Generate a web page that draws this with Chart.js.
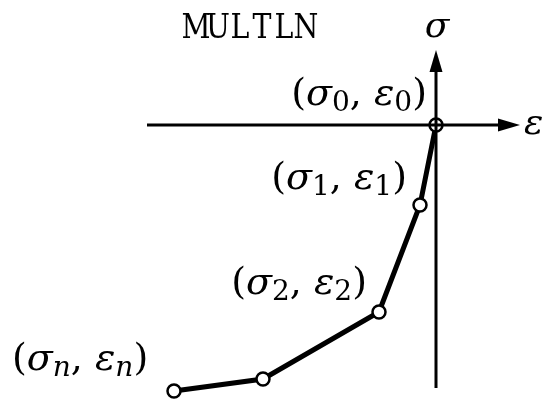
<!DOCTYPE html>
<html>
<head>
<meta charset="utf-8">
<script src="https://cdn.jsdelivr.net/npm/chart.js@4.4.0/dist/chart.umd.min.js"></script>
<style>
  html, body { margin: 0; padding: 0; background: #fff; overflow: hidden; }
  canvas { display: block; }
</style>
</head>
<body>
<canvas id="multlnChart" width="548" height="399"></canvas>
<script>
// Multilinear stress-strain curve points (compression side)
const strain = [0, -0.16, -0.57, -1.73, -2.62];
const stress = [0, -0.80, -1.87, -2.54, -2.66];
const subscripts = ['0', '1', '2', null, 'n'];

const curve = strain.map((e, i) => ({ x: e, y: stress[i] }));

const MATH = '"DejaVu Serif"';

// typewriter-style title: serif caps squeezed into fixed-width cells
function drawTypewriter(ctx, text, left, baseline, cell) {
    ctx.font = '33px ' + MATH;
    ctx.textAlign = 'center';
    for (let i = 0; i < text.length; i++) {
        ctx.save();
        ctx.translate(left + cell * (i + 0.5), baseline);
        ctx.scale(0.86, 1);
        ctx.fillText(text[i], 0, 0);
        ctx.restore();
    }
}

// axes, arrows, title and point labels
const sketchPlugin = {
    id: 'sketch',
    afterDatasetsDraw(chart) {
        const ctx = chart.ctx;
        const xs = chart.scales.x, ys = chart.scales.y;
        const x0 = xs.getPixelForValue(0), y0 = ys.getPixelForValue(0);

        ctx.save();
        ctx.strokeStyle = '#000';
        ctx.fillStyle = '#000';
        ctx.lineWidth = 3;

        // horizontal axis (strain)
        const xl = xs.getPixelForValue(-2.89), xr = xs.getPixelForValue(0.84);
        ctx.beginPath();
        ctx.moveTo(xl, y0);
        ctx.lineTo(xr - 14, y0);
        ctx.stroke();
        ctx.beginPath();
        ctx.moveTo(xr, y0);
        ctx.lineTo(xr - 22, y0 - 6.5);
        ctx.lineTo(xr - 22, y0 + 6.5);
        ctx.closePath();
        ctx.fill();

        // vertical axis (stress)
        const yt = ys.getPixelForValue(0.75), yb = ys.getPixelForValue(-2.63);
        ctx.beginPath();
        ctx.moveTo(x0, yb);
        ctx.lineTo(x0, yt + 14);
        ctx.stroke();
        ctx.beginPath();
        ctx.moveTo(x0, yt);
        ctx.lineTo(x0 - 6.5, yt + 22);
        ctx.lineTo(x0 + 6.5, yt + 22);
        ctx.closePath();
        ctx.fill();

        ctx.textBaseline = 'alphabetic';
        ctx.font = 'italic 36px ' + MATH;
        ctx.textAlign = 'center';
        ctx.fillText('σ', x0 + 1, 37);
        ctx.textAlign = 'left';
        ctx.fillText('ε', xr + 4, y0 + 9);

        drawTypewriter(ctx, 'MULTLN', 185, 38, 22);

        // point labels (σi, εi): [right edge or left edge, baseline]
        const anchors = [[427, 105], [407, 189], [367, 294], null, [12, 370]];
        subscripts.forEach((s, i) => {
            if (s === null) return;
            const [ax, ay] = anchors[i];
            drawPair(ctx, s, ax, ay, i === 4);
        });
        ctx.restore();
    }
};

function drawPair(ctx, s, x, y, fromLeft) {
    const sub = (s === 'n' ? 'italic ' : '') + '28px ' + MATH;
    const parts = [
        ['(', '38px ' + MATH, 0],
        ['σ', 'italic 38px ' + MATH, 0],
        [s, sub, 6],
        [', ', '38px ' + MATH, 0],
        ['ε', 'italic 38px ' + MATH, 0],
        [s, sub, 6],
        [')', '38px ' + MATH, 0]
    ];
    let w = 0;
    parts.forEach(p => { ctx.font = p[1]; w += ctx.measureText(p[0]).width; });
    let cx = fromLeft ? x : x - w;
    ctx.textAlign = 'left';
    parts.forEach(p => {
        ctx.font = p[1];
        ctx.fillText(p[0], cx, y + p[2]);
        cx += ctx.measureText(p[0]).width;
    });
}

new Chart(document.getElementById('multlnChart'), {
    type: 'scatter',
    data: {
        datasets: [
            {
                data: curve,
                showLine: true,
                borderColor: '#000',
                borderWidth: 5,
                pointRadius: 6.5,
                pointBackgroundColor: '#fff',
                pointBorderColor: '#000',
                pointBorderWidth: 2.5,
                tension: 0,
                clip: false
            },
            {
                // origin marker: cross inside the circle
                data: [curve[0]],
                pointStyle: 'cross',
                pointRadius: 6.5,
                pointBorderColor: '#000',
                pointBorderWidth: 2,
                clip: false
            }
        ]
    },
    options: {
        responsive: false,
        animation: false,
        layout: { padding: 0, autoPadding: false },
        scales: {
            x: { type: 'linear', min: -4.36, max: 1.12, display: false },
            y: { type: 'linear', min: -2.74, max: 1.25, display: false }
        },
        plugins: {
            legend: { display: false },
            tooltip: { enabled: false }
        }
    },
    plugins: [sketchPlugin]
});
</script>
</body>
</html>
